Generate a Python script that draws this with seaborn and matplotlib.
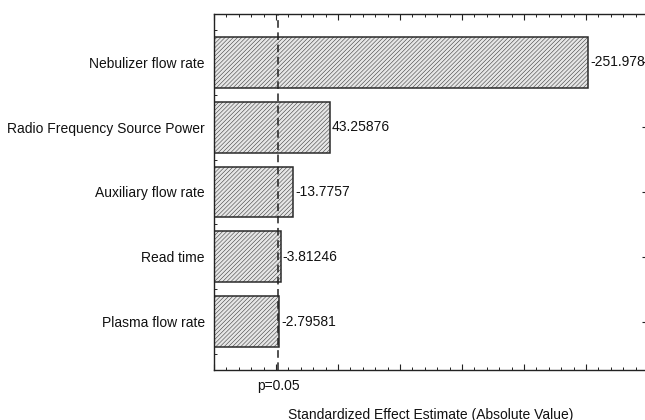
import matplotlib
matplotlib.use("Agg")
import matplotlib.pyplot as plt
import matplotlib.transforms as mtransforms
from matplotlib.ticker import MultipleLocator, FixedLocator, NullFormatter
import seaborn as sns
import pandas as pd

# Pareto chart of standardized effects
factors = [
    "Nebulizer flow rate",
    "Radio Frequency Source Power",
    "Auxiliary flow rate",
    "Read time",
    "Plasma flow rate",
]
effects = [-251.978, 43.25876, -13.7757, -3.81246, -2.79581]
effect_labels = ["-251.978", "43.25876", "-13.7757", "-3.81246", "-2.79581"]
t_critical = 1.96
critical_label = "p=0.05"
x_title = "Standardized Effect Estimate (Absolute Value)"

df = pd.DataFrame({"factor": factors, "abs_effect": [abs(v) for v in effects]})

sns.set_theme(style="white")
plt.rcParams["font.family"] = ["Liberation Sans", "DejaVu Sans"]
plt.rcParams["hatch.linewidth"] = 0.35
plt.rcParams["hatch.color"] = "#a0a0a0"

fig = plt.figure(figsize=(6.45, 4.20), dpi=100)
ax = fig.add_axes([214 / 645, 1 - 370 / 420, (648 - 214) / 645, (370 - 14) / 420])

sns.barplot(data=df, x="abs_effect", y="factor", orient="h", ax=ax,
            color="#e6e6e6", width=0.785, edgecolor="#2a2a2a", linewidth=1.1,
            saturation=1)

x_min, x_max = -50, 300
ax.set_xlim(x_min, x_max)
ax.set_ylim(len(factors) - 1 + 0.74, -0.74)

# bars run from the left edge of the axis out to each absolute effect
for patch, val in zip(ax.patches, df["abs_effect"]):
    patch.set_x(x_min)
    patch.set_width(val - x_min)
    patch.set_hatch("/" * 8)
    patch.set_facecolor("#e6e6e6")

for i, (val, lab) in enumerate(zip(df["abs_effect"], effect_labels)):
    ax.text(val + 1.6, i, lab, va="center", ha="left", fontsize=10, color="#111111")

ax.axvline(t_critical, color="#222222", linestyle=(0, (5, 3)), linewidth=1.1, zorder=3)

ax.xaxis.set_major_locator(MultipleLocator(50))
ax.xaxis.set_minor_locator(MultipleLocator(10))
ax.xaxis.set_major_formatter(NullFormatter())
ax.yaxis.set_minor_locator(FixedLocator([k * 0.25 - 0.5 for k in range(0, 4 * len(factors) + 1)]))
ax.tick_params(axis="both", which="major", direction="in", length=4.5, width=0.8,
               color="#222222", top=True, right=True, bottom=True, left=True)
ax.tick_params(axis="both", which="minor", direction="in", length=2.5, width=0.7,
               color="#222222", top=True, right=True, bottom=True, left=True)
ax.tick_params(axis="y", which="major", labelsize=10, pad=6.5, labelcolor="#111111")

for s in ax.spines.values():
    s.set_color("#222222")
    s.set_linewidth(1.0)

trans = mtransforms.blended_transform_factory(ax.transData, ax.transAxes)
ax.text(t_critical, -16 / 356, critical_label, transform=trans, ha="center", va="center",
        fontsize=10, color="#111111")

ax.set_ylabel("")
ax.set_xlabel(x_title, fontsize=10, color="#111111", labelpad=23.5)

fig.savefig("out.png", dpi=100)
